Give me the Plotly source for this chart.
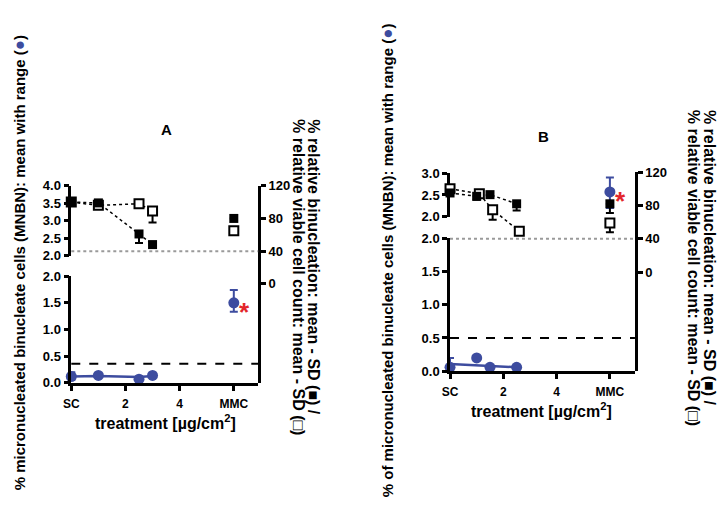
import plotly.graph_objects as go

W, H = 719, 524

# ---------------- data ----------------
x_tickvals = [0, 2, 4, 6]
x_ticktext = ["SC", "2", "4", "MMC"]

# Panel A  (SC, 1, 2.5, 3 µg/cm², MMC)
A_x = [0, 1, 2.5, 3, 6]
A_binuc = [100, 99, 61, 48, 80]
A_binuc_sd = [0, 0, 11, 0, 0]
A_viab = [100, 96, 98, 89, 65]
A_viab_sd = [0, 0, 0, 14, 0]
A_mnbn = [0.12, 0.14, 0.07, 0.14, 1.5]
A_mnbn_lo = [0.06, 0.14, 0.07, 0.14, 1.33]
A_mnbn_hi = [0.20, 0.14, 0.07, 0.14, 1.74]
A_mnbn_trend = [0.12, 0.13, 0.11, 0.13]
A_mnbn_threshold = 0.36

# Panel B  (SC, 1, 1.5, 2.5 µg/cm², MMC)
B_x = [0, 1, 1.5, 2.5, 6]
B_binuc = [95, 91, 93, 82, 82]
B_binuc_sd = [0, 4, 0, 8, 11]
B_viab = [100, 94, 75, 49, 59]
B_viab_sd = [0, 0, 12, 0, 11]
B_mnbn = [0.06, 0.20, 0.06, 0.06, 2.57]
B_mnbn_lo = [0.00, 0.20, 0.06, 0.06, 2.20]
B_mnbn_hi = [0.20, 0.20, 0.06, 0.06, 2.90]
B_mnbn_trend = [0.11, 0.09, 0.08, 0.06]
B_mnbn_threshold = 0.5

viability_limit = 40

BLUE = "#3d4c9f"
RED = "#e3262b"
TICKFONT = dict(family="Liberation Sans Narrow, Liberation Sans, Arial", size=13, color="black", weight="bold")
XTICKFONT = dict(family="Liberation Sans Narrow, Liberation Sans, Arial", size=12, color="black", weight="bold")


def xd(p0, p1):
    return [p0 / W, p1 / W]


def yd(top, bot):
    return [1 - bot / H, 1 - top / H]


fig = go.Figure()


def panel(xa, ylow, yup, yr, xs, binuc, binuc_sd, viab, viab_sd, mnbn, lo, hi, trend,
          mmc_on_upper, dodge):
    n = len(xs)
    xv = [x + (dodge if 0 < i < n - 1 else 0) for i, x in enumerate(xs)]
    # keep the upper (broken) left axis drawn
    fig.add_trace(go.Scatter(x=[], y=[], xaxis=xa, yaxis=yup, mode="markers",
                             showlegend=False, hoverinfo="skip"))
    # dotted connecting lines
    fig.add_trace(go.Scatter(x=xs[:-1], y=binuc[:-1], xaxis=xa, yaxis=yr, mode="lines",
                             line=dict(color="black", width=1.5, dash="dot"), hoverinfo="skip",
                             showlegend=False, cliponaxis=False))
    fig.add_trace(go.Scatter(x=xv[:-1], y=viab[:-1], xaxis=xa, yaxis=yr, mode="lines",
                             line=dict(color="black", width=1.5, dash="dot"), hoverinfo="skip",
                             showlegend=False, cliponaxis=False))
    # open squares: relative viable cell count
    fig.add_trace(go.Scatter(x=xv, y=viab, xaxis=xa, yaxis=yr, mode="markers",
                             marker=dict(symbol="square", size=9, color="white",
                                         line=dict(color="black", width=2)),
                             error_y=dict(type="data", symmetric=False, array=[0] * n,
                                          arrayminus=viab_sd, color="black", thickness=2, width=4),
                             showlegend=False, cliponaxis=False))
    # filled squares: relative binucleation
    fig.add_trace(go.Scatter(x=xs, y=binuc, xaxis=xa, yaxis=yr, mode="markers",
                             marker=dict(symbol="square", size=9, color="black"),
                             error_y=dict(type="data", symmetric=False, array=[0] * n,
                                          arrayminus=binuc_sd, color="black", thickness=2, width=4),
                             showlegend=False, cliponaxis=False))
    # MNBN trend line
    fig.add_trace(go.Scatter(x=xs[:-1], y=trend, xaxis=xa, yaxis=ylow, mode="lines",
                             line=dict(color=BLUE, width=2.5), showlegend=False,
                             cliponaxis=False))
    # MNBN points with range
    m = n - 1
    fig.add_trace(go.Scatter(x=xs[:m], y=mnbn[:m], xaxis=xa, yaxis=ylow, mode="markers",
                             marker=dict(symbol="circle", size=11, color=BLUE),
                             error_y=dict(type="data", symmetric=False,
                                          array=[h - v for h, v in zip(hi[:m], mnbn[:m])],
                                          arrayminus=[v - l for v, l in zip(mnbn[:m], lo[:m])],
                                          color=BLUE, thickness=2, width=4),
                             showlegend=False, cliponaxis=False))
    ymmc = yup if mmc_on_upper else ylow
    fig.add_trace(go.Scatter(x=[xs[m]], y=[mnbn[m]], xaxis=xa, yaxis=ymmc, mode="markers",
                             marker=dict(symbol="circle", size=11, color=BLUE),
                             error_y=dict(type="data", symmetric=False,
                                          array=[hi[m] - mnbn[m]], arrayminus=[mnbn[m] - lo[m]],
                                          color=BLUE, thickness=2, width=4),
                             showlegend=False, cliponaxis=False))
    fig.add_annotation(x=xs[m], y=mnbn[m], xref=xa, yref=ymmc, text="*", showarrow=False,
                       xshift=11, yshift=-9,
                       font=dict(family="Liberation Sans, Arial", size=26, color=RED, weight="bold"))


panel("x", "y", "y2", "y3", A_x, A_binuc, A_binuc_sd, A_viab, A_viab_sd,
      A_mnbn, A_mnbn_lo, A_mnbn_hi, A_mnbn_trend, False, 0.0)
panel("x2", "y4", "y5", "y6", B_x, B_binuc, B_binuc_sd, B_viab, B_viab_sd,
      B_mnbn, B_mnbn_lo, B_mnbn_hi, B_mnbn_trend, True, 0.1)

# reference lines
for xa, yr, yl, thr in [("x", "y3", "y", A_mnbn_threshold), ("x2", "y6", "y4", B_mnbn_threshold)]:
    fig.add_shape(type="line", xref=f"{xa} domain", yref=yr, x0=0, x1=1,
                  y0=viability_limit, y1=viability_limit,
                  line=dict(color="#9a9a9a", width=2, dash="dot"))
    fig.add_shape(type="line", xref=f"{xa} domain", yref=yl, x0=0, x1=1, y0=thr, y1=thr,
                  line=dict(color="black", width=2, dash="dash"))


def yaxis_common(**kw):
    d = dict(showline=True, linecolor="black", linewidth=2.5, ticks="outside", ticklen=5,
             tickwidth=2.5, tickcolor="black", showgrid=False, zeroline=False,
             tickfont=TICKFONT, fixedrange=True)
    d.update(kw)
    return d


def xaxis_common(**kw):
    d = dict(showline=True, linecolor="black", linewidth=2.5, ticks="outside", ticklen=5,
             tickwidth=2.5, tickcolor="black", showgrid=False, zeroline=False,
             tickfont=XTICKFONT, tickvals=x_tickvals, ticktext=x_ticktext, ticklabelstandoff=3)
    d.update(kw)
    return d


fig.update_layout(
    width=W, height=H, margin=dict(l=0, r=0, t=0, b=0),
    paper_bgcolor="white", plot_bgcolor="rgba(0,0,0,0)", showlegend=False,
    # ---- panel A ----
    xaxis=xaxis_common(domain=xd(64, 253), range=[0, 6.9], anchor="y"),
    yaxis=yaxis_common(domain=yd(277, 387), range=[0, 2], anchor="x",
                       tickvals=[0, 0.5, 1, 1.5, 2], ticktext=["0.0", "0.5", "1.0", "1.5", "2.0"]),
    yaxis2=yaxis_common(domain=yd(184, 256), range=[2, 4], anchor="x",
                        tickvals=[2, 2.5, 3, 3.5, 4], ticktext=["2.0", "2.5", "3.0", "3.5", "4.0"]),
    yaxis3=yaxis_common(domain=yd(184, 387), range=[-121.2, 120], anchor="x", side="right",
                        tickvals=[0, 40, 80, 120]),
    # ---- panel B ----
    xaxis2=xaxis_common(domain=xd(447, 634), range=[0, 6.94], anchor="y4"),
    yaxis4=yaxis_common(domain=yd(238, 375), range=[0, 2], anchor="x2",
                        tickvals=[0, 0.5, 1, 1.5, 2], ticktext=["0.0", "0.5", "1.0", "1.5", "2.0"]),
    yaxis5=yaxis_common(domain=yd(171, 216), range=[2, 3], anchor="x2",
                        tickvals=[2, 2.5, 3], ticktext=["2.0", "2.5", "3.0"]),
    yaxis6=yaxis_common(domain=yd(170, 375), range=[-118.9, 120], anchor="x2", side="right",
                        tickvals=[0, 40, 80, 120]),
)

dot = f'(<span style="color:{BLUE};font-size:17px">●</span>)'
left_A = "% micronucleated binucleate cells (MNBN): mean with range " + dot
left_B = "% of micronucleated binucleate cells (MNBN): mean with range " + dot
right_line1 = "% relative binucleation: mean - SD (■) /"
right_line2 = "% relative viable cell count: mean - SD (□)"
x_title = "treatment [µg/cm<sup>2</sup>]"


def ann(text, px, py, angle=0, size=14, yanchor="middle"):
    fig.add_annotation(x=px / W, y=1 - py / H, xref="paper", yref="paper", text=text,
                       showarrow=False, textangle=angle,
                       xanchor="center", yanchor=yanchor,
                       font=dict(family="Liberation Sans, Arial", size=size, color="black",
                                 weight="bold"))


ann("A", 160, 126, size=15)
ann("B", 542, 133, size=15)
ann(left_A, 12, 263, angle=-90, size=15)
ann(left_B, 384, 261, angle=-90, size=15)
ann(right_line1, 309, 113, angle=90, size=16, yanchor="top")
ann(right_line2, 293, 113, angle=90, size=16, yanchor="top")
ann(right_line1, 710, 104, angle=90, size=16, yanchor="top")
ann(right_line2, 694, 104, angle=90, size=16, yanchor="top")
ann(x_title, 159, 427, size=16)
ann(x_title, 540, 415, size=16)

fig.write_html("out.html", config={"displayModeBar": False},
               post_script="document.body.style.margin='0';document.body.style.padding='0';")
